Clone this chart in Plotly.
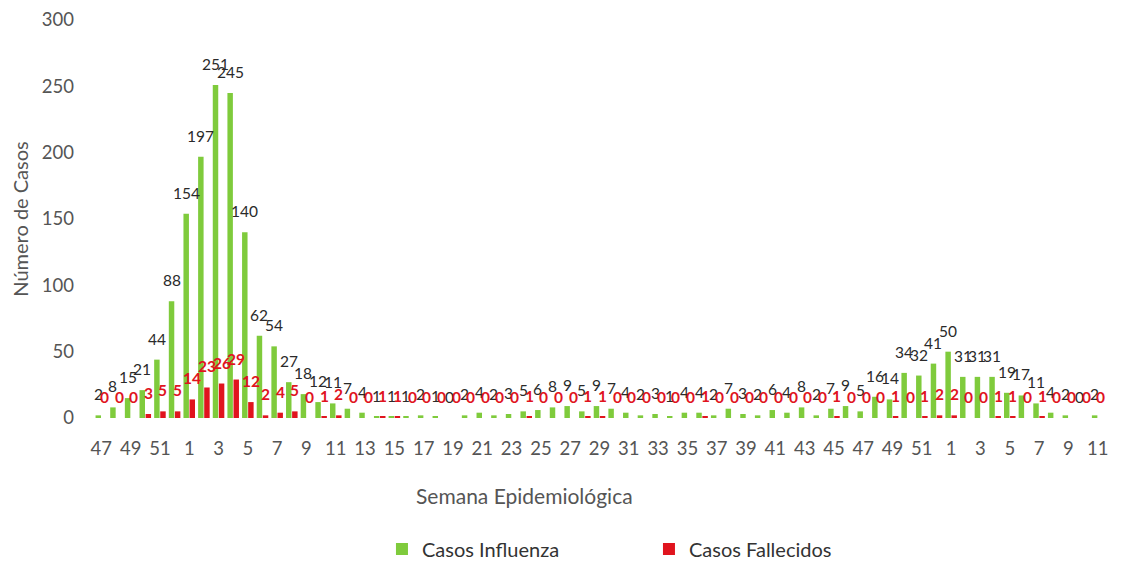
import plotly.graph_objects as go

# ---- data ----
weeks = list(range(47, 53)) + list(range(1, 53)) + list(range(1, 12))

influenza = [
    2, 8, 15, 21, 44, 88,
    154, 197, 251, 245, 140, 62, 54, 27, 18, 12,
    11, 7, 4, 1, 1, 1, 2, 1, 0, 2,
    4, 2, 3, 5, 6, 8, 9, 5, 9, 7,
    4, 2, 3, 1, 4, 4, 2, 7, 3, 2,
    6, 4, 8, 2, 7, 9, 5, 16, 14, 34,
    32, 41,
    50, 31, 31, 31, 19, 17, 11, 4, 2, 0, 2,
]

fallecidos = [
    0, 0, 0, 3, 5, 5,
    14, 23, 26, 29, 12, 2, 4, 5, 0, 1,
    2, 0, 0, 1, 1, 0, 0, 0, 0, 0,
    0, 0, 0, 1, 0, 0, 0, 1, 1, 0,
    0, 0, 0, 0, 0, 1, 0, 0, 0, 0,
    0, 0, 0, 0, 1, 0, 0, 0, 1, 0,
    1, 2,
    2, 0, 0, 1, 1, 0, 1, 0, 0, 0, 0,
]

tick_step = 2
y_ticks = [0, 50, 100, 150, 200, 250, 300]

# ---- styling ----
GREEN = "#7fcb3c"
RED = "#e0141e"
FONT = "Lato"
GREY = "#555555"
BARGAP = 0.17

x = list(range(len(weeks)))

fig = go.Figure()
fig.add_trace(go.Bar(x=x, y=influenza, name="Casos Influenza",
                     marker_color=GREEN, marker_line_width=0))
fig.add_trace(go.Bar(x=x, y=fallecidos, name="Casos Fallecidos",
                     marker_color=RED, marker_line_width=0))

off = (1 - BARGAP) / 4
annotations = []
for i, (g, r) in enumerate(zip(influenza, fallecidos)):
    annotations.append(dict(x=i - off, y=g, text=str(g), showarrow=False,
                            xref="x", yref="y", yanchor="middle", yshift=21,
                            font=dict(family=FONT, size=15.5, color="#2a2a2a")))
    annotations.append(dict(x=i + off, y=r, text="<b>%d</b>" % r, showarrow=False,
                            xref="x", yref="y", yanchor="middle", yshift=21,
                            font=dict(family=FONT, size=15.5, color=RED)))

annotations.append(dict(text="Semana Epidemiológica", xref="paper", yref="paper",
                        x=0.426, y=-0.1935, showarrow=False, yanchor="middle",
                        font=dict(family=FONT, size=21, color=GREY)))

# page body has an 8px default margin, so the figure is sized to fit the window
fig.update_layout(
    width=1113, height=554,
    margin=dict(l=86, r=16, t=12, b=144),
    paper_bgcolor="white", plot_bgcolor="white",
    barmode="group", bargap=BARGAP, bargroupgap=0.1,
    font=dict(family=FONT, color=GREY),
    showlegend=True,
    legend=dict(orientation="h", xref="container", yref="container",
                x=0.336, y=0.0235, xanchor="left", yanchor="middle",
                font=dict(family=FONT, size=20, color="#333333"),
                entrywidth=222, entrywidthmode="pixels", itemwidth=30),
    annotations=annotations,
)
fig.update_xaxes(
    range=[-0.5, len(weeks) - 0.5], automargin=False,
    tickmode="array", tickvals=x[::tick_step], ticktext=[str(w) for w in weeks[::tick_step]],
    tickfont=dict(family=FONT, size=18.5, color=GREY),
    showgrid=False, zeroline=False, showline=False, ticks="",
    ticklabelstandoff=17, ticklabeloverflow="allow",
)
fig.update_yaxes(
    range=[0, 300], tickmode="array", tickvals=y_ticks, automargin=False,
    tickfont=dict(family=FONT, size=18.5, color=GREY),
    showgrid=False, zeroline=False, showline=False, ticks="",
    ticklabelstandoff=19, ticklabeloverflow="allow",
    title=dict(text="Número de Casos", font=dict(family=FONT, size=20, color=GREY), standoff=8),
)

fig.write_html("out.html")
